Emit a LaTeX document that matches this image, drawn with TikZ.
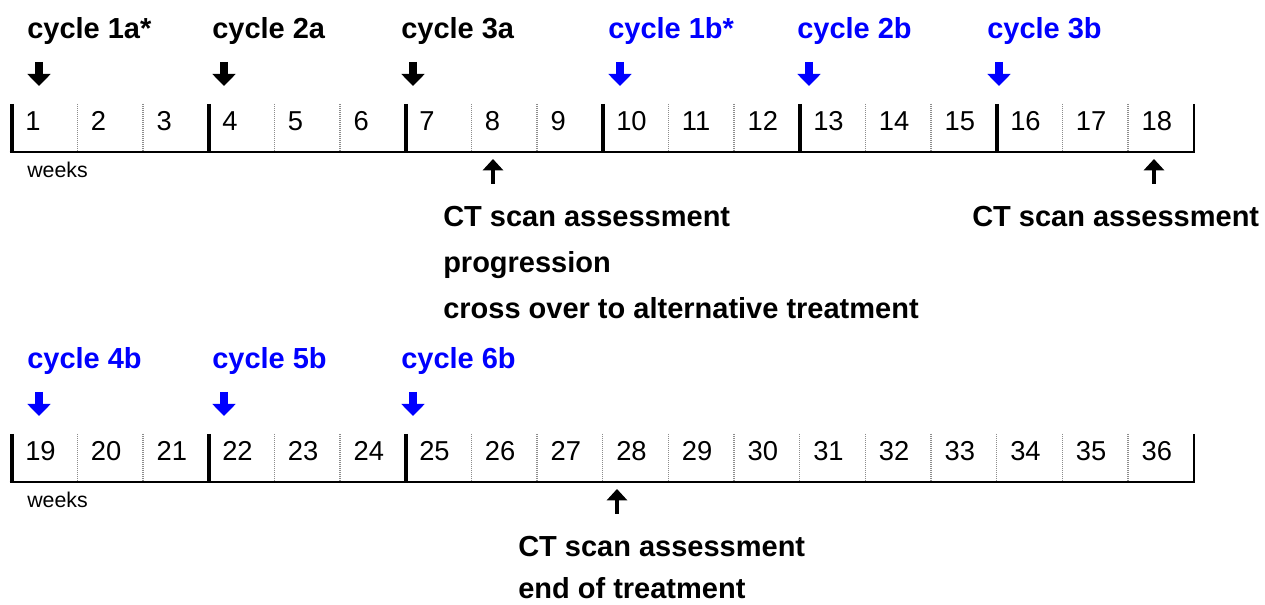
\documentclass[tikz,border=0pt]{standalone}
\usepackage{fontspec}
\setmainfont{Liberation Sans}
\usetikzlibrary{arrows.meta}
\definecolor{cblue}{RGB}{0,0,255}
\definecolor{dotgray}{RGB}{140,140,140}
\begin{document}
\begin{tikzpicture}[x=0.75pt,y=-0.75pt,
  lbl/.style={anchor=base west,inner sep=0pt,font=\fontsize{21.75}{26}\selectfont\bfseries},
  num/.style={anchor=base west,inner sep=0pt,font=\fontsize{20.5}{24}\selectfont},
  wk/.style={anchor=base west,inner sep=0pt,font=\fontsize{16}{19}\selectfont},
  bigtick/.style={line width=3pt},
  endtick/.style={line width=1.5pt},
  baseln/.style={line width=1.5pt},
  dotsep/.style={dotgray,line width=1pt,dash pattern=on 0.75pt off 0.75pt},
  downarr/.style={line width=5.5pt,-{Triangle[width=17pt,length=9pt]}},
  uparr/.style={line width=3.6pt,-{Triangle[width=15pt,length=8.5pt]}},
]
\useasboundingbox (0,0) rectangle (1265,605);

% ---------------- Row 1 ----------------
\node[lbl] (c1a) at (27,39) {cycle 1a*};
\node[lbl] (c2a) at (212,39) {cycle 2a};
\node[lbl] (c3a) at (401,39) {cycle 3a};
\node[lbl,cblue] (c1b) at (608,39) {cycle 1b*};
\node[lbl,cblue] (c2b) at (797,39) {cycle 2b};
\node[lbl,cblue] (c3b) at (987,39) {cycle 3b};

\foreach \n/\cx/\col in {a1/39/black,a2/224/black,a3/413/black,b1/620/cblue,b2/809/cblue,b3/999/cblue}{
  \coordinate (\n-s) at (\cx,62);
  \coordinate (\n-e) at (\cx,86);
  \draw[downarr,\col] (\n-s) -- (\n-e);
}

\foreach \k in {1,2,4,5,7,8,10,11,13,14,16,17}
  \draw[dotsep] ({11.5+\k*65.667},104) -- ({11.5+\k*65.667},152);
\foreach \k in {0,3,6,9,12,15}
  \draw[bigtick] ({11.5+\k*65.667},104) -- ({11.5+\k*65.667},153);
\draw[endtick] (1193.5,104) -- (1193.5,152.75);
\draw[baseln] (9.5,152) -- (1194.25,152);

\foreach \i in {1,...,18}
  \node[num] (w\i) at ({11.5+(\i-1)*65.667+13.5},131) {\i};

\node[wk] (weeks1) at (27,178) {weeks};

\coordinate (u1-s) at (493,184);
\coordinate (u1-e) at (493,159);
\draw[uparr] (u1-s) -- (u1-e);
\coordinate (u2-s) at (1154,184);
\coordinate (u2-e) at (1154,159);
\draw[uparr] (u2-s) -- (u2-e);

\node[lbl] (ct1) at (443,227) {CT scan assessment};
\node[lbl] (prog) at (443,273) {progression};
\node[lbl] (cross) at (443,319) {cross over to alternative treatment};
\node[lbl] (ct2) at (972,227) {CT scan assessment};

% ---------------- Row 2 ----------------
\node[lbl,cblue] (c4b) at (27,369) {cycle 4b};
\node[lbl,cblue] (c5b) at (212,369) {cycle 5b};
\node[lbl,cblue] (c6b) at (401,369) {cycle 6b};

\foreach \n/\cx in {b4/39,b5/224,b6/413}{
  \coordinate (\n-s) at (\cx,392);
  \coordinate (\n-e) at (\cx,416);
  \draw[downarr,cblue] (\n-s) -- (\n-e);
}

\foreach \k in {1,2,4,5,7,8,9,10,11,12,13,14,15,16,17}
  \draw[dotsep] ({11.5+\k*65.667},434) -- ({11.5+\k*65.667},482);
\foreach \k in {0,3,6}
  \draw[bigtick] ({11.5+\k*65.667},434) -- ({11.5+\k*65.667},483);
\draw[endtick] (1193.5,434) -- (1193.5,482.75);
\draw[baseln] (9.5,482) -- (1194.25,482);

\foreach \i in {19,...,36}
  \node[num] (w\i) at ({11.5+(\i-19)*65.667+13.5},461) {\i};

\node[wk] (weeks2) at (27,508) {weeks};

\coordinate (u3-s) at (617,514);
\coordinate (u3-e) at (617,489);
\draw[uparr] (u3-s) -- (u3-e);

\node[lbl] (ct3) at (518,557) {CT scan assessment};
\node[lbl] (eot) at (518,599) {end of treatment};
\end{tikzpicture}
\end{document}
